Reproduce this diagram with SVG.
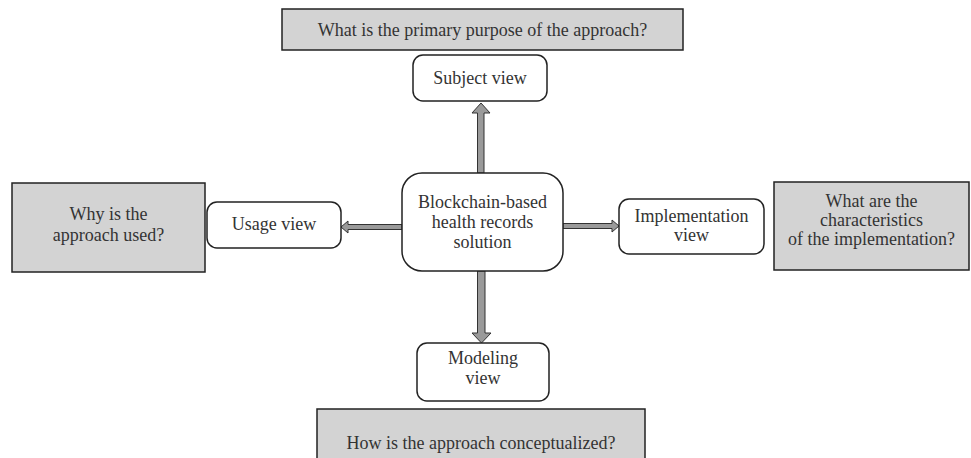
<svg xmlns="http://www.w3.org/2000/svg" width="971" height="458" viewBox="0 0 971 458">
<style>
.q{fill:#d3d3d3;stroke:#222;stroke-width:1.5}
.v{fill:#fff;stroke:#222;stroke-width:1.5}
.t{font-family:"Liberation Serif","Times New Roman",serif;font-size:18px;fill:#333;text-anchor:middle}
.a{fill:#9a9a9a;stroke:#333;stroke-width:1;stroke-linejoin:miter}
</style>
<rect width="971" height="458" fill="#fff"/>
<g id="connectors">
<polygon class="a" points="477.5,173 477.5,113 472,113 481,103 490,113 484,113 484,173"/>
<polygon class="a" points="477.5,271 477.5,333 472,333 481.5,343 491,333 485,333 485,271"/>
<polygon class="a" points="402,224.5 348,224.5 348,221 341,227 348,233 348,229.5 402,229.5"/>
<polygon class="a" points="563,223.5 612,223.5 612,220 619,226 612,232 612,228.5 563,228.5"/>
</g>
<g id="q-top"><rect class="q" x="282" y="9" width="401" height="41"/><text class="t" x="482.5" y="36">What is the primary purpose of the approach?</text></g>
<g id="subject"><rect class="v" x="413" y="55" width="134" height="46" rx="10"/><text class="t" x="480" y="84">Subject view</text></g>
<g id="center"><rect class="v" x="402" y="173" width="161" height="98" rx="20"/>
<text class="t" x="482.5" y="208">Blockchain-based</text><text class="t" x="482.5" y="228">health records</text><text class="t" x="482.5" y="248">solution</text></g>
<g id="q-left"><rect class="q" x="12" y="183" width="193" height="89"/><text class="t" x="108.5" y="220">Why is the</text><text class="t" x="108.5" y="241">approach used?</text></g>
<g id="usage"><rect class="v" x="207" y="202" width="134" height="46" rx="10"/><text class="t" x="274" y="230">Usage view</text></g>
<g id="implementation"><rect class="v" x="619" y="199" width="145" height="55" rx="10"/><text class="t" x="691.5" y="222">Implementation</text><text class="t" x="691.5" y="241">view</text></g>
<g id="q-right"><rect class="q" x="774" y="182" width="195" height="88"/><text class="t" x="871.5" y="207">What are the</text><text class="t" x="871.5" y="226">characteristics</text><text class="t" x="871.5" y="245">of the implementation?</text></g>
<g id="modeling"><rect class="v" x="417" y="343" width="132" height="58" rx="10"/><text class="t" x="483" y="364">Modeling</text><text class="t" x="483" y="384">view</text></g>
<g id="q-bottom"><rect class="q" x="317" y="409" width="328" height="60"/><text class="t" x="481" y="449">How is the approach conceptualized?</text></g>
</svg>
